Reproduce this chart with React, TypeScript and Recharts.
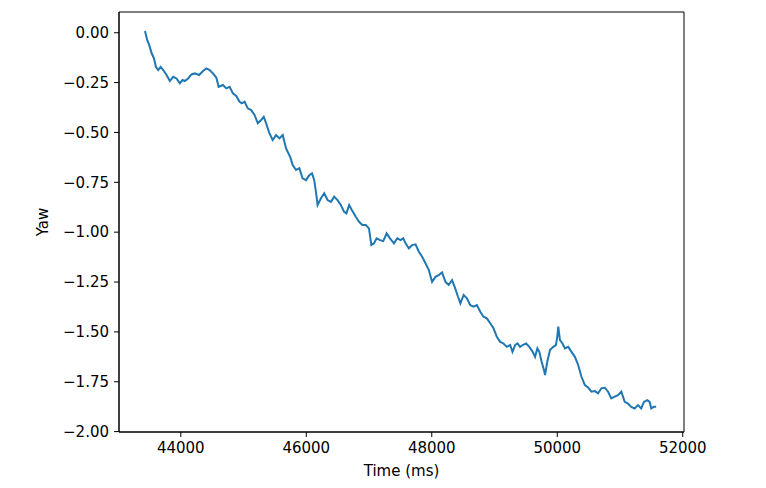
import React from 'react';
import { LineChart, Line, XAxis, YAxis, ReferenceArea } from 'recharts';

// time stamps (ms)
const timeMs = [
  43429, 43465, 43497, 43535, 43572, 43603, 43640, 43678, 43719, 43773, 43825, 43878, 43932, 43984, 44027, 44064, 44116, 44170, 44222, 44291, 44354, 44408, 44460, 44513, 44567, 44603,
  44672, 44725, 44778, 44830, 44884, 44937, 44973, 45016, 45068, 45122, 45175, 45227, 45281, 45322, 45360, 45413, 45465, 45519, 45572, 45624, 45678, 45746,
  45783, 45837, 45889, 45941, 45995, 46048, 46091, 46127, 46164, 46180, 46234, 46286, 46339, 46392, 46445, 46497, 46551, 46603, 46640, 46683, 46726, 46789, 46841, 46894, 46948, 46999,
  47037, 47079, 47122, 47175, 47227, 47281, 47334, 47397, 47450, 47503, 47545, 47582, 47635, 47687, 47741, 47794, 47846, 47900, 47953, 48005, 48059, 48111, 48164,
  48218, 48270, 48323, 48365, 48418, 48456, 48508, 48560, 48614, 48667, 48719, 48773, 48825, 48878, 48932, 48984, 49037, 49090, 49143, 49195, 49249, 49286, 49328, 49365,
  49408, 49449, 49503, 49555, 49608, 49646, 49683, 49714, 49751, 49789, 49805, 49841, 49884, 49936, 49979, 50000, 50016, 50043, 50084, 50122, 50175, 50227, 50281, 50333, 50386, 50440, 50492,
  50545, 50599, 50651, 50703, 50757, 50810, 50862, 50916, 50968, 51021, 51075, 51127, 51179, 51233, 51286, 51338, 51381, 51434, 51472, 51498, 51540, 51576,
];

const yawValues = [
  0.009, -0.037, -0.062, -0.103, -0.128, -0.171, -0.187, -0.171, -0.187, -0.212, -0.242, -0.221, -0.229, -0.254, -0.237, -0.242, -0.229, -0.209, -0.204, -0.212, -0.192, -0.179, -0.187, -0.204, -0.226, -0.271,
  -0.262, -0.279, -0.271, -0.304, -0.317, -0.346, -0.354, -0.346, -0.379, -0.388, -0.412, -0.454, -0.438, -0.421, -0.454, -0.505, -0.538, -0.513, -0.53, -0.513, -0.58, -0.625,
  -0.663, -0.688, -0.679, -0.73, -0.739, -0.714, -0.705, -0.739, -0.822, -0.864, -0.83, -0.805, -0.839, -0.848, -0.822, -0.839, -0.864, -0.898, -0.906, -0.864, -0.889, -0.923, -0.948, -0.964, -0.964, -0.981,
  -1.065, -1.056, -1.031, -1.04, -1.045, -1.006, -1.031, -1.056, -1.031, -1.04, -1.031, -1.056, -1.081, -1.065, -1.061, -1.098, -1.123, -1.156, -1.19, -1.249, -1.224, -1.215, -1.202,
  -1.249, -1.265, -1.24, -1.274, -1.324, -1.357, -1.315, -1.332, -1.366, -1.374, -1.366, -1.399, -1.424, -1.432, -1.457, -1.482, -1.525, -1.55, -1.558, -1.575, -1.566, -1.6, -1.566, -1.558,
  -1.575, -1.566, -1.558, -1.575, -1.6, -1.625, -1.583, -1.6, -1.65, -1.692, -1.717, -1.65, -1.591, -1.575, -1.566, -1.525, -1.474, -1.541, -1.558, -1.583, -1.575, -1.6, -1.625, -1.666, -1.725, -1.767, -1.779,
  -1.8, -1.797, -1.808, -1.783, -1.78, -1.8, -1.834, -1.825, -1.817, -1.8, -1.851, -1.859, -1.876, -1.884, -1.867, -1.884, -1.851, -1.842, -1.851, -1.884, -1.876, -1.876,
];

const xTicks = [44000, 46000, 48000, 50000, 52000];
const yTicks = [-2, -1.75, -1.5, -1.25, -1, -0.75, -0.5, -0.25, 0];
const xDomain = [43015, 52020];
const yDomain = [-2.002, 0.104];

const data = timeMs.map((t, i) => ({ t, yaw: yawValues[i] }));

const FONT = '"DejaVu Sans", sans-serif';
const tickStyle = { fontSize: 15, fill: '#000', fontFamily: FONT };
const fmtY = (v: number) => v.toFixed(2).replace('-', '\u2212');

const YLabel = (props: any) => {
  const vb = props.viewBox || { x: 0, y: 12, width: 119, height: 420 };
  const cx = vb.x + 43;
  const cy = vb.y + vb.height / 2;
  return (
    <text x={cx} y={cy} transform={`rotate(-90 ${cx} ${cy})`} textAnchor="middle"
      dominantBaseline="central" fontSize={15} fontFamily={FONT} fill="#000">Yaw</text>
  );
};

const XLabel = (props: any) => {
  const vb = props.viewBox || { x: 119, y: 432, width: 565, height: 56 };
  return (
    <text x={vb.x + vb.width / 2} y={vb.y + 44} textAnchor="middle"
      fontSize={15} fontFamily={FONT} fill="#000">Time (ms)</text>
  );
};

export default function App() {
  return (
    <div style={{ position: 'absolute', left: 0, top: 0, width: 766, height: 488, background: '#fff' }}>
      <LineChart width={766} height={488} data={data} margin={{ top: 12, right: 82, left: 0, bottom: 0 }}>
        <XAxis dataKey="t" type="number" domain={xDomain} ticks={xTicks} allowDataOverflow
          tick={tickStyle} tickSize={5} tickMargin={5} height={56}
          axisLine={{ stroke: '#000', strokeWidth: 1 }} tickLine={{ stroke: '#000' }}
          label={{ content: XLabel }} />
        <YAxis type="number" domain={yDomain} ticks={yTicks} allowDataOverflow
          tickFormatter={fmtY} tick={tickStyle} tickSize={5} tickMargin={5} width={119}
          axisLine={{ stroke: '#000', strokeWidth: 1 }} tickLine={{ stroke: '#000' }}
          label={{ content: YLabel }} />
        {/* frame around the plot area, like matplotlib's spines */}
        <ReferenceArea x1={xDomain[0]} x2={xDomain[1]} y1={yDomain[0]} y2={yDomain[1]}
          fill="none" fillOpacity={0} stroke="#000" strokeWidth={1} strokeOpacity={1} ifOverflow="visible" />
        <Line type="linear" dataKey="yaw" stroke="#1f77b4" strokeWidth={2} dot={false}
          isAnimationActive={false} />
      </LineChart>
    </div>
  );
}
